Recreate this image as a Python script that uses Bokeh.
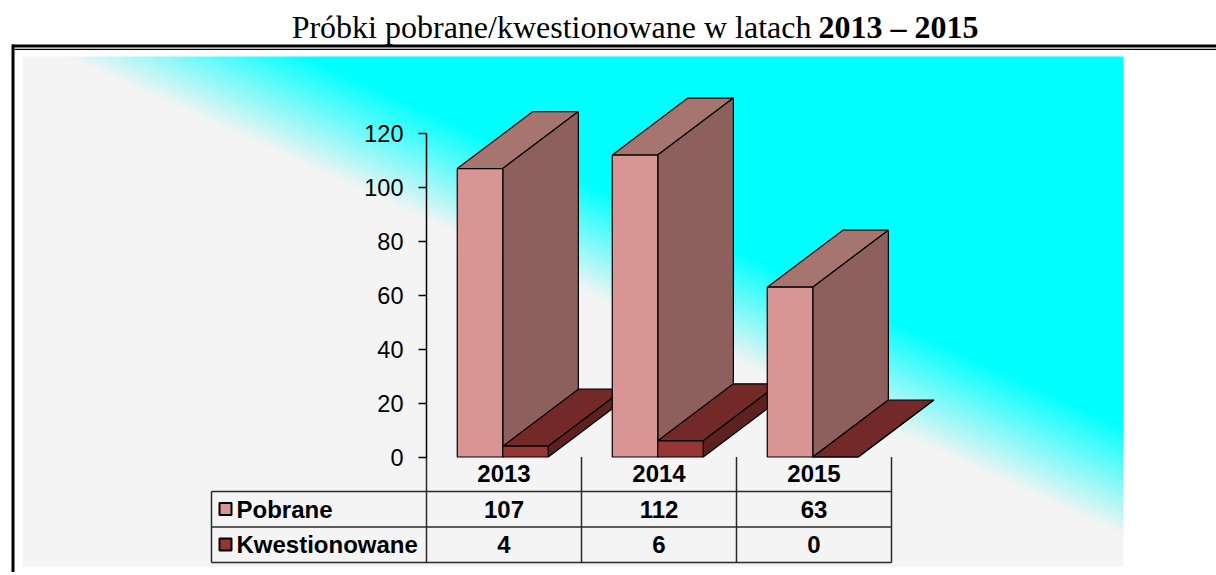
import numpy as np
from bokeh.plotting import figure
from bokeh.models import Range1d, LinearAxis, FixedTicker, ColumnDataSource
from bokeh.core.properties import value
from bokeh.embed import file_html
from bokeh.resources import INLINE

# ---------------- data ----------------
TITLE_NORMAL = "Próbki pobrane/kwestionowane w latach"
TITLE_BOLD = "2013 – 2015"
categories = ["2013", "2014", "2015"]
series_names = ["Pobrane", "Kwestionowane"]
pobrane = [107, 112, 63]
kwestionowane = [4, 6, 0]
y_ticks = [0, 20, 40, 60, 80, 100, 120]

# ---------------- styles ----------------
PINK = ("#d99594", "#a67570", "#8d605e")   # front, top, side
RED = ("#953735", "#722928", "#5f2120")
CYAN = np.array([0, 255, 255], dtype=float)
GRAY = np.array([244, 244, 244], dtype=float)
LINE_C = "#2a2a2a"
SANS = value("Liberation Sans")
SERIF = value("Liberation Serif")

W, H = 1216, 572
PAGE_OFF = 0
X_ORIGIN_PX = 426.0      # page x where the category axis starts
CAT_PX = 155.0           # width of a category column
Y_ZERO_PX = 456.5        # page y of value 0
PX_PER_VAL = 323.5 / 120.0


def ux(px):
    return (px - X_ORIGIN_PX) / CAT_PX


def uy(py):
    return (Y_ZERO_PX - py) / PX_PER_VAL


p = figure(width=W, height=H,
           x_range=Range1d(ux(PAGE_OFF), ux(PAGE_OFF + W)),
           y_range=Range1d(uy(PAGE_OFF + H), uy(PAGE_OFF)),
           output_backend="svg", toolbar_location=None,
           x_axis_type=None, y_axis_type=None, min_border=0,
           outline_line_color=None, background_fill_color="white",
           border_fill_color="white")

# ---------------- gradient background ----------------
bx0, bx1, by0, by1 = 22, 1123, 56, 566
Wb, Hb = bx1 - bx0, by1 - by0
xx, yy = np.meshgrid(np.arange(Wb) + bx0 + 0.5, np.arange(Hb) + by0 + 0.5)
d = np.array([937.0, 424.0])
d /= np.hypot(*d)
n = np.array([-d[1], d[0]])
s = n[0] * (xx - 186.0) + n[1] * (yy - 56.0)
t = np.clip((s + 50.0) / 100.0, 0, 1)[..., None]
rgb = CYAN * (1 - t) + GRAY * t
img = np.empty((Hb, Wb), dtype=np.uint32)
v = img.view(dtype=np.uint8).reshape((Hb, Wb, 4))
v[..., :3] = rgb.astype(np.uint8)
v[..., 3] = 255
img = img[::-1].copy()
p.image_rgba(image=[img], x=ux(bx0), y=uy(by1), dw=Wb / CAT_PX, dh=Hb / PX_PER_VAL)

# ---------------- frame lines ----------------
p.segment(x0=[ux(12), ux(14)], y0=[uy(45.6), uy(48.8)],
          x1=[ux(1216), ux(1216)], y1=[uy(45.6), uy(48.8)],
          line_color="black", line_width=[3, 1.2])
p.segment(x0=[ux(12.5)], y0=[uy(44.1)], x1=[ux(12.5)], y1=[uy(580)],
          line_color="black", line_width=3)

# ---------------- title ----------------
p.text(x=[ux(811)], y=[uy(26)], text=[TITLE_NORMAL], text_align="right",
       text_baseline="alphabetic", text_font=SERIF, text_font_size="32px",
       text_color="black")
p.text(x=[ux(818)], y=[uy(26)], text=[TITLE_BOLD], text_align="left",
       text_baseline="alphabetic", text_font=SERIF, text_font_size="32px",
       text_font_style="bold", text_color="black")

# ---------------- 3D bars ----------------
BAR_W = 45.5 / CAT_PX
DX = 75.6 / CAT_PX
DY = 57.0 / PX_PER_VAL
GROUP_SHIFT = -0.008
xs, ys, fills = [], [], []
for i, cat in enumerate(categories):
    c = i + 0.5 + GROUP_SHIFT
    for si, (vals, cols) in enumerate([(pobrane, PINK), (kwestionowane, RED)]):
        h = vals[i]
        x0 = c - BAR_W + si * BAR_W
        x1 = x0 + BAR_W
        xs.append([x0, x1, x1 + DX, x0 + DX]); ys.append([h, h, h + DY, h + DY]); fills.append(cols[1])
        xs.append([x1, x1 + DX, x1 + DX, x1]); ys.append([0, DY, h + DY, h]); fills.append(cols[2])
        xs.append([x0, x1, x1, x0]); ys.append([0, 0, h, h]); fills.append(cols[0])
p.patches(xs="xs", ys="ys", fill_color="fill",
          source=ColumnDataSource(dict(xs=xs, ys=ys, fill=fills)),
          line_color="black", line_width=1.2)

# ---------------- value axis ----------------
yaxis = LinearAxis(fixed_location=0, bounds=(0, 120), ticker=FixedTicker(ticks=y_ticks))
yaxis.major_tick_out = 8
yaxis.major_tick_in = 0
yaxis.minor_tick_out = 0
yaxis.minor_tick_in = 0
yaxis.axis_line_width = 1.5
yaxis.major_tick_line_width = 1.5
yaxis.major_label_text_font = "Liberation Sans"
yaxis.major_label_text_font_size = "23.5px"
yaxis.major_label_text_color = "black"
yaxis.major_label_standoff = 15
p.add_layout(yaxis, "left")

# ---------------- data table ----------------
ncat = len(categories)
row_lines_px = [491, 526.5, 562]
table_left = ux(211)
p.segment(x0=list(range(ncat + 1)), y0=[0] * (ncat + 1),
          x1=list(range(ncat + 1)), y1=[uy(562)] * (ncat + 1),
          line_color=LINE_C, line_width=1.5)
p.segment(x0=[table_left] * 3, y0=[uy(r) for r in row_lines_px],
          x1=[ncat] * 3, y1=[uy(r) for r in row_lines_px],
          line_color=LINE_C, line_width=1.5)
p.segment(x0=[table_left], y0=[uy(491)], x1=[table_left], y1=[uy(562)],
          line_color=LINE_C, line_width=1.5)

centers = [i + 0.5 for i in range(ncat)]
p.text(x=centers, y=[uy(473)] * ncat, text=categories, text_align="center",
       text_baseline="middle", text_font=SANS, text_font_size="24px",
       text_font_style="bold", text_color="black")
row_y = [uy(508.5), uy(544)]
for r, vals in enumerate([pobrane, kwestionowane]):
    p.text(x=centers, y=[row_y[r]] * ncat, text=[str(v) for v in vals],
           text_align="center", text_baseline="middle", text_font=SANS,
           text_font_size="24px", text_font_style="bold", text_color="black")
p.scatter(x=[ux(225)] * 2, y=row_y, marker="square", size=12,
          fill_color=[PINK[0], RED[0]], line_color="black", line_width=2)
p.text(x=[ux(236)] * 2, y=row_y, text=series_names, text_align="left",
       text_baseline="middle", text_font=SANS, text_font_size="24px",
       text_font_style="bold", text_color="black")

open("out.html", "w").write(file_html(p, INLINE))
